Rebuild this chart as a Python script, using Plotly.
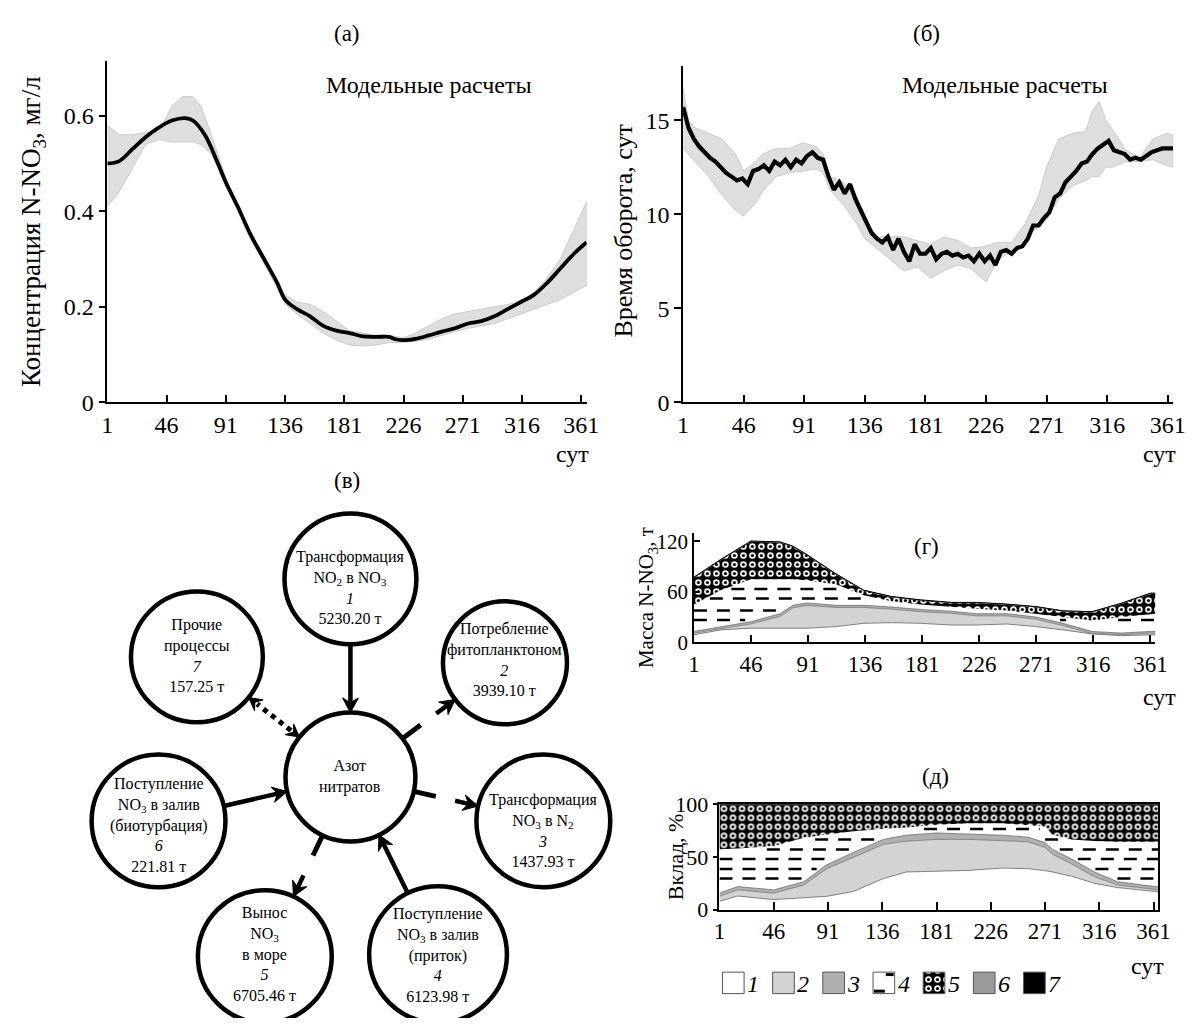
import numpy as np
import plotly.graph_objects as go

W, H = 1197, 1031
FONT = "Liberation Serif"

# ---------------- (а) concentration N-NO3, mg/l ----------------
days_a = [1, 10, 20, 30, 40, 50, 60, 66, 75, 85, 91, 100, 110, 120, 130, 136, 145, 155, 165,
          175, 185, 195, 205, 215, 220, 226, 235, 245, 255, 265, 275, 285, 295, 305, 315, 325,
          335, 345, 355, 365]
conc_mean = [0.50, 0.505, 0.53, 0.555, 0.575, 0.59, 0.595, 0.59, 0.56, 0.50, 0.46, 0.41, 0.35,
             0.30, 0.25, 0.215, 0.195, 0.18, 0.16, 0.15, 0.145, 0.138, 0.137, 0.137, 0.132,
             0.13, 0.133, 0.14, 0.148, 0.155, 0.165, 0.17, 0.18, 0.195, 0.21, 0.225, 0.25,
             0.28, 0.31, 0.335]
days_a_band = [1, 10, 20, 30, 40, 50, 58, 66, 72, 80, 91, 100, 110, 120, 130, 136, 145, 155,
               165, 175, 185, 195, 205, 215, 226, 235, 245, 255, 265, 275, 285, 295, 305, 315,
               325, 335, 345, 355, 365]
conc_upper = [0.58, 0.56, 0.56, 0.565, 0.565, 0.62, 0.64, 0.64, 0.62, 0.56, 0.47, 0.41, 0.35,
              0.30, 0.25, 0.225, 0.21, 0.205, 0.19, 0.17, 0.15, 0.145, 0.14, 0.14, 0.135,
              0.145, 0.16, 0.175, 0.185, 0.19, 0.195, 0.2, 0.205, 0.21, 0.23, 0.26, 0.30,
              0.36, 0.42]
conc_lower = [0.41, 0.44, 0.49, 0.54, 0.55, 0.545, 0.545, 0.545, 0.54, 0.52, 0.455, 0.40, 0.34,
              0.29, 0.24, 0.205, 0.185, 0.165, 0.145, 0.13, 0.12, 0.118, 0.12, 0.125, 0.125,
              0.128, 0.132, 0.14, 0.148, 0.155, 0.16, 0.165, 0.175, 0.185, 0.195, 0.205,
              0.215, 0.23, 0.245]

# ---------------- (б) turnover time, days ----------------
days_b = list(range(1, 366, 4))
turn_mean = [15.7, 14.6, 14.0, 13.6, 13.3, 13.0, 12.8, 12.5, 12.2, 12.0,
             11.8, 11.9, 11.6, 12.3, 12.4, 12.6, 12.3, 12.8, 12.6, 12.9,
             12.5, 12.9, 12.7, 13.1, 13.3, 13.0, 12.9, 12.0, 11.3, 11.7,
             11.1, 11.6, 10.8, 10.2, 9.6, 9.0, 8.7, 8.5, 8.8, 8.1,
             8.7, 8.0, 7.5, 8.4, 7.9, 7.9, 8.2, 7.6, 7.9, 8.0,
             7.8, 7.9, 7.7, 7.8, 7.5, 7.9, 7.5, 7.8, 7.3, 8.0,
             8.1, 7.9, 8.2, 8.3, 8.7, 9.4, 9.4, 9.8, 10.1, 10.9,
             11.1, 11.7, 12.0, 12.3, 12.7, 12.8, 13.2, 13.5, 13.7, 13.9,
             13.4, 13.3, 13.2, 12.9, 13.0, 12.9, 13.1, 13.3, 13.4, 13.5,
             13.5, 13.5]
days_b_band = [1, 5, 10, 20, 30, 40, 46, 55, 60, 70, 80, 90, 100, 105, 110, 120, 130, 136, 145,
               155, 165, 175, 185, 195, 205, 215, 226, 235, 245, 255, 265, 271, 280, 290, 300,
               305, 310, 315, 320, 330, 340, 350, 360, 365]
turn_upper = [16.7, 15.0, 14.6, 14.3, 14.0, 13.2, 12.3, 12.8, 13.2, 13.5, 13.5, 13.8, 13.6,
              13.2, 12.0, 11.7, 11.0, 9.8, 8.8, 8.8, 8.8, 8.6, 8.4, 8.8, 8.6, 8.2, 8.3, 8.5,
              8.5, 9.5, 11.0, 12.5, 14.0, 14.3, 14.4, 15.5, 16.0, 15.0, 14.5, 13.4, 13.0, 14.0,
              14.3, 14.2]
turn_lower = [13.5, 13.2, 12.8, 12.0, 11.0, 10.2, 9.9, 10.6, 11.2, 12.0, 12.2, 12.3, 12.4,
              12.2, 11.3, 10.5, 9.5, 8.7, 8.2, 7.6, 7.0, 7.2, 6.6, 7.0, 7.3, 7.1, 6.4, 7.6,
              8.0, 8.8, 9.3, 9.7, 10.8, 11.5, 11.8, 12.0, 12.0, 12.5, 12.5, 12.8, 12.8, 12.9,
              12.6, 12.5]

# ---------------- (г) mass of N-NO3 by component, t ----------------
days_g = [1, 22, 46, 69, 79, 90, 113, 135, 157, 180, 204, 224, 248, 271, 292, 315, 338, 361, 365]
mass_1 = [9, 14.8, 16.8, 16.8, 16.8, 16.8, 18.7, 22.6, 23.4, 22.6, 20.6, 20.6, 21.8, 18.7, 14.8, 10, 8, 9, 9]
mass_2 = [2, 1.2, 5.2, 14.2, 24.2, 27.2, 22.8, 18.9, 16.1, 13.9, 13.9, 10.9, 9.7, 8.8, 5.2, 0.5, 1, 2, 2]
mass_3 = [2, 2.7, 2.5, 3, 3, 2.8, 2.5, 2.5, 2.5, 2.5, 2.5, 2.5, 2.5, 2.5, 2.6, 2.4, 2, 2, 2]
mass_4 = [32, 43.3, 50.5, 41, 31, 27.2, 25, 12, 7, 6, 5, 6, 4, 4, 7.4, 13.1, 19, 21, 21]
mass_5 = [32, 36, 45, 44, 39, 30, 12, 5.5, 5, 5, 5, 7, 7, 8, 7, 10, 16, 24, 24]
mass_6 = [0.3] * len(days_g)
mass_7 = [0.2] * len(days_g)

# ---------------- (д) contribution, % ----------------
days_d = [1, 16, 46, 71, 90, 112, 137, 156, 181, 208, 235, 257, 271, 277, 293, 312, 331, 362, 365]
pct_1 = [8, 13, 9.6, 11, 12.7, 17.3, 29.6, 35.8, 36.4, 37.3, 39.5, 38.9, 37, 35.8, 31.8, 25, 21, 17.3, 17]
pct_2 = [4.7, 5.8, 6.1, 12.5, 26.2, 32.4, 32.4, 29.2, 30.3, 29.4, 26.2, 25.6, 22, 17, 11.7, 6.2, 2.5, 1.5, 1.8]
pct_3 = [3, 3.1, 3.1, 3, 3.7, 4.6, 4.7, 5.7, 6.1, 5.2, 5, 4.3, 4.6, 4.6, 4.6, 4.6, 3, 3.1, 3.1]
pct_4 = [41.7, 36.1, 41.7, 41.7, 28.7, 20.1, 10.2, 7.3, 7.8, 10.2, 11.4, 11.8, 15.4, 13.9, 18.6, 29.3, 38, 42.6, 42.6]
pct_5 = [42.1, 41.5, 39, 31.3, 28.2, 25.1, 22.6, 21.5, 18.9, 17.4, 17.4, 18.9, 20.5, 28.2, 32.8, 34.4, 35, 35, 35]
pct_6 = [0.3] * len(days_d)
pct_7 = [0.2] * len(days_d)

# ---------------- tick labels / texts ----------------
day_ticks = [1, 46, 91, 136, 181, 226, 271, 316, 361]
legend_labels = ["1", "2", "3", "4", "5", "6", "7"]
comp_colors = ["white", "#d3d3d3", "#b0b0b0", "white", "pattern", "#9a9a9a", "black"]

# ---------------- (в) flow diagram ----------------
node_values = [5230.20, 3939.10, 1437.93, 6123.98, 6705.46, 221.81, 157.25]
node_texts = [
    ["Трансформация", "NO<sub>2</sub> в NO<sub>3</sub>", "<i>1</i>"],
    ["Потребление", "фитопланктоном", "<i>2</i>"],
    ["Трансформация", "NO<sub>3</sub> в N<sub>2</sub>", "<i>3</i>"],
    ["Поступление", "NO<sub>3</sub> в залив", "(приток)", "<i>4</i>"],
    ["Вынос", "NO<sub>3</sub>", "в море", "<i>5</i>"],
    ["Поступление", "NO<sub>3</sub> в залив", "(биотурбация)", "<i>6</i>"],
    ["Прочие", "процессы", "<i>7</i>"],
]
center_text = ["Азот", "нитратов"]
flow_kind = ["in", "out", "out", "in", "out", "in", "both"]

# layout constants (pixels): centre x, centre y, radius, text centre y
node_geom = [
    (350, 581, 67, 590),
    (507, 667, 63, 664),
    (546, 829, 68, 839),
    (439, 966, 70, 966),
    (263, 968, 68, 965),
    (155, 829, 68, 833),
    (194, 661, 67, 659),
]
center_geom = (350, 784, 66, 784)

fig = go.Figure()


def ax_common(size=24, **kw):
    d = dict(showgrid=False, zeroline=False, showline=True, linecolor="black", linewidth=1.5,
             tickfont=dict(family=FONT, size=size, color="black"), ticks="outside",
             tickcolor="black", tickwidth=1.5, fixedrange=True)
    d.update(kw)
    return d


def fx(p):
    return p / W


def fy(p):
    return 1 - p / H


# ---- (а)
fig.add_trace(go.Scatter(x=days_a_band + days_a_band[::-1], y=conc_upper + conc_lower[::-1],
                         fill="toself", fillcolor="#dedede", line=dict(color="#cccccc", width=1),
                         mode="lines", xaxis="x", yaxis="y", hoverinfo="skip"))
fig.add_trace(go.Scatter(x=days_a, y=conc_mean, mode="lines",
                         line=dict(color="black", width=3.8, shape="spline"),
                         xaxis="x", yaxis="y"))
# ---- (б)
fig.add_trace(go.Scatter(x=days_b_band + days_b_band[::-1], y=turn_upper + turn_lower[::-1],
                         fill="toself", fillcolor="#dedede", line=dict(color="#cccccc", width=1),
                         mode="lines", xaxis="x2", yaxis="y2", hoverinfo="skip"))
fig.add_trace(go.Scatter(x=days_b, y=turn_mean, mode="lines", line=dict(color="black", width=4.2),
                         xaxis="x2", yaxis="y2"))

DOT_BIG = dict(shape=".", bgcolor="black", fgcolor="white", size=9, solidity=0.42, fillmode="replace")
DOT_SMALL = dict(shape=".", bgcolor="rgba(0,0,0,0)", fgcolor="black", size=9, solidity=0.1,
                 fillmode="replace")


# ---- stacked panels
def stacked(days, comps, xa, ya, levels):
    line_w = [0.8, 0.8, 0.8, 0, 1, 0.8, 1]
    line_c = ["#666666", "#777777", "#666666", "white", "#555555", "#999999", "black"]
    sg = "s" + xa
    for i, (vals, col) in enumerate(zip(comps, comp_colors)):
        if col == "pattern":
            kw = dict(fillcolor="black", fillpattern=DOT_BIG)
        else:
            kw = dict(fillcolor=col)
        fig.add_trace(go.Scatter(x=days, y=vals, stackgroup=sg, mode="lines",
                                 line=dict(width=line_w[i], color=line_c[i]),
                                 xaxis=xa, yaxis=ya, hoverinfo="skip", **kw))
    cum = np.cumsum(np.array(comps, dtype=float), axis=0)
    lo5, hi5 = cum[3], cum[4]
    fig.add_trace(go.Scatter(x=list(days) + list(days)[::-1], y=list(lo5) + list(hi5)[::-1],
                             fill="toself", mode="none", fillcolor="rgba(0,0,0,0)",
                             fillpattern=DOT_SMALL, xaxis=xa, yaxis=ya, hoverinfo="skip"))
    # dashed rows of component 4
    lo4, hi4 = cum[2], cum[3]
    fine = np.linspace(days[0], days[-1], 900)
    flo = np.interp(fine, days, lo4)
    fhi = np.interp(fine, days, hi4)
    xs, ys = [], []
    for L in levels:
        inside = (flo + 3 < L) & (fhi - 3 > L)
        start = None
        for k, ok in enumerate(inside):
            if ok and start is None:
                start = k
            if (not ok or k == len(inside) - 1) and start is not None:
                end = k if ok else k - 1
                if fine[end] - fine[start] > 4:
                    xs += [fine[start], fine[end], None]
                    ys += [L, L, None]
                start = None
    fig.add_trace(go.Scatter(x=xs, y=ys, mode="lines",
                             line=dict(color="black", width=2.5, dash="13px,10px"),
                             xaxis=xa, yaxis=ya, hoverinfo="skip", connectgaps=False))


stacked(days_g, [mass_1, mass_2, mass_3, mass_4, mass_5, mass_6, mass_7], "x3", "y3",
        [63.5, 52, 38, 26.5])
stacked(days_d, [pct_1, pct_2, pct_3, pct_4, pct_5, pct_6, pct_7], "x4", "y4",
        [76.5, 66.7, 57, 48, 38.6, 29.6])

# ---- pixel overlay axis (diagram + legend)
fig.add_trace(go.Scatter(x=[0], y=[0], mode="markers", marker=dict(opacity=0), xaxis="x7", yaxis="y7",
                         hoverinfo="skip"))

shapes = []
annotations = []


def circ(cx, cy, r):
    shapes.append(dict(type="circle", xref="x7", yref="y7", x0=cx - r, x1=cx + r, y0=cy - r, y1=cy + r,
                       line=dict(color="black", width=4.5), fillcolor="white", layer="above"))


def node_text(lines, cx, ty, size=16):
    annotations.append(dict(x=cx, y=ty, xref="x7", yref="y7", text="<br>".join(lines), showarrow=False,
                            font=dict(family=FONT, size=size, color="black"), align="center",
                            xanchor="center", yanchor="middle"))


def seg(x0, y0, x1, y1, w=5, dash="solid"):
    shapes.append(dict(type="line", xref="x7", yref="y7", x0=x0, y0=y0, x1=x1, y1=y1,
                       line=dict(color="black", width=w, dash=dash), layer="above"))


def head(tx, ty, ux, uy, L=15, hw=8, notch=5):
    nx, ny = -uy, ux
    b1 = (tx - L * ux + hw * nx, ty - L * uy + hw * ny)
    m = (tx - (L - notch) * ux, ty - (L - notch) * uy)
    b2 = (tx - L * ux - hw * nx, ty - L * uy - hw * ny)
    path = (f"M {tx:.1f},{ty:.1f} L {b1[0]:.1f},{b1[1]:.1f} L {m[0]:.1f},{m[1]:.1f} "
            f"L {b2[0]:.1f},{b2[1]:.1f} Z")
    shapes.append(dict(type="path", xref="x7", yref="y7", path=path, fillcolor="black",
                       line=dict(color="black", width=1), layer="above"))
    return m


def arrow(tail, tip, w=4.5, L=15, hw=8):
    dx, dy = tip[0] - tail[0], tip[1] - tail[1]
    n = np.hypot(dx, dy)
    m = head(tip[0], tip[1], dx / n, dy / n, L=L, hw=hw)
    seg(tail[0], tail[1], m[0], m[1], w=w)


ccx, ccy, cr, cty = center_geom
circ(ccx, ccy, cr)
node_text(center_text, ccx, cty)
for (cx, cy, r, ty), lines, val, kind in zip(node_geom, node_texts, node_values, flow_kind):
    circ(cx, cy, r)
    node_text(lines + [f"{val:.2f} т"], cx, ty)
    d = np.hypot(cx - ccx, cy - ccy)
    ux, uy = (cx - ccx) / d, (cy - ccy) / d

    def P(s):
        return (ccx + ux * s, ccy + uy * s)

    if kind == "in":
        arrow(P(d - r), P(cr))
    elif kind == "out":
        a, b = P(cr), P(cr + 23)
        seg(a[0], a[1], b[0], b[1])
        arrow(P(d - r - 24), P(d - r))
    else:
        a, b = P(cr + 11), P(d - r - 11)
        seg(a[0], a[1], b[0], b[1], w=5, dash="dot")
        head(*P(cr), -ux, -uy, L=13, hw=7)
        head(*P(d - r), ux, uy, L=13, hw=7)

# ---- legend for (г)/(д)
lx0, ly0, lsz, lstep = 728, 984, 22, 51
for i, (lab, col) in enumerate(zip(legend_labels, comp_colors)):
    x0 = lx0 + i * lstep
    if col == "pattern":
        xs = [x0, x0 + lsz, x0 + lsz, x0, x0]
        ys = [ly0, ly0, ly0 + lsz, ly0 + lsz, ly0]
        fig.add_trace(go.Scatter(x=xs, y=ys, fill="toself", mode="lines", fillcolor="black",
                                 line=dict(color="#555555", width=1), fillpattern=DOT_BIG,
                                 xaxis="x7", yaxis="y7", hoverinfo="skip"))
        fig.add_trace(go.Scatter(x=xs, y=ys, fill="toself", mode="none", fillcolor="rgba(0,0,0,0)",
                                 fillpattern=DOT_SMALL, xaxis="x7", yaxis="y7", hoverinfo="skip"))
    else:
        shapes.append(dict(type="rect", xref="x7", yref="y7", x0=x0, x1=x0 + lsz, y0=ly0, y1=ly0 + lsz,
                           line=dict(color="#555555", width=1), fillcolor=col, layer="above"))
    if i == 3:
        seg(x0 + 13, ly0 + 2.5, x0 + lsz - 1, ly0 + 2.5, w=3)
        seg(x0 + 1, ly0 + lsz - 2.5, x0 + 12, ly0 + lsz - 2.5, w=3)
    annotations.append(dict(x=x0 + lsz + 9, y=ly0 + lsz / 2 + 1, xref="x7", yref="y7",
                            text=f"<i>{lab}</i>", showarrow=False,
                            font=dict(family=FONT, size=24, color="black"), xanchor="center",
                            yanchor="middle"))


# ---- panel texts (paper coords from pixels)
def ptext(text, x, y, size=23, angle=0, xanchor="center"):
    annotations.append(dict(x=fx(x), y=fy(y), xref="paper", yref="paper", text=text, showarrow=False,
                            textangle=angle, font=dict(family=FONT, size=size, color="black"),
                            xanchor=xanchor, yanchor="middle"))


ptext("(а)", 347, 22)
ptext("(б)", 935, 22)
ptext("(в)", 347, 480)
ptext("(г)", 935, 548)
ptext("(д)", 944, 783)
ptext("Модельные расчеты", 430, 75, size=24)
ptext("Модельные расчеты", 1015, 75, size=24)
ptext("сут", 576, 453, size=24)
ptext("сут", 1172, 453, size=24)
ptext("сут", 1172, 702, size=24)
ptext("сут", 1160, 978, size=24)
ptext("Концентрация N-NO<sub>3</sub>, мг/л", 27, 225, size=27, angle=-90)
ptext("Время оборота, сут", 627, 225, size=26, angle=-90)
ptext("Масса N-NO<sub>3</sub>, т", 652, 600, size=21, angle=-90)
ptext("Вклад, %", 680, 866, size=22, angle=-90)

hidden = dict(domain=[0, 1], visible=False, fixedrange=True, showticklabels=False, ticks="",
              showgrid=False, zeroline=False, showline=False)
fig.update_layout(
    width=W, height=H, autosize=False, margin=dict(l=0, r=0, t=0, b=0),
    paper_bgcolor="white", plot_bgcolor="rgba(0,0,0,0)", showlegend=False,
    xaxis=ax_common(domain=[fx(103), fx(590)], range=[1, 365], tickvals=day_ticks, ticks="inside",
                    ticklen=8, anchor="y"),
    yaxis=ax_common(domain=[fy(400), fy(50)], range=[0, 0.715], tickvals=[0, 0.2, 0.4, 0.6],
                    ticktext=["0", "0.2", "0.4", "0.6"], ticklen=7, anchor="x"),
    xaxis2=ax_common(domain=[fx(688), fx(1186)], range=[1, 365], tickvals=day_ticks, ticks="inside",
                     ticklen=8, anchor="y2"),
    yaxis2=ax_common(domain=[fy(400), fy(55)], range=[0, 17.9], tickvals=[0, 5, 10, 15], ticklen=7,
                     anchor="x2"),
    xaxis3=ax_common(size=23, domain=[fx(699), fx(1168)], range=[1, 365], tickvals=day_ticks,
                     ticks="inside", ticklen=8, anchor="y3"),
    yaxis3=ax_common(size=21, domain=[fy(646), fy(534)], range=[0, 130], tickvals=[0, 60, 120],
                     ticks="inside", ticklen=6, anchor="x3"),
    xaxis4=ax_common(size=23, domain=[fx(725), fx(1171)], range=[1, 365], tickvals=day_ticks,
                     ticks="inside", ticklen=8, anchor="y4", mirror=True),
    yaxis4=ax_common(size=22, domain=[fy(920), fy(812)], range=[0, 100], tickvals=[0, 50, 100],
                     ticklen=5, anchor="x4", mirror=True),
    xaxis7=dict(range=[0, W], anchor="y7", **hidden),
    yaxis7=dict(range=[H, 0], anchor="x7", **hidden),
    shapes=shapes,
    annotations=annotations,
)

fig.write_html("out.html", config={"displayModeBar": False},
               post_script="document.body.style.margin='0';document.body.style.overflow='hidden';")
